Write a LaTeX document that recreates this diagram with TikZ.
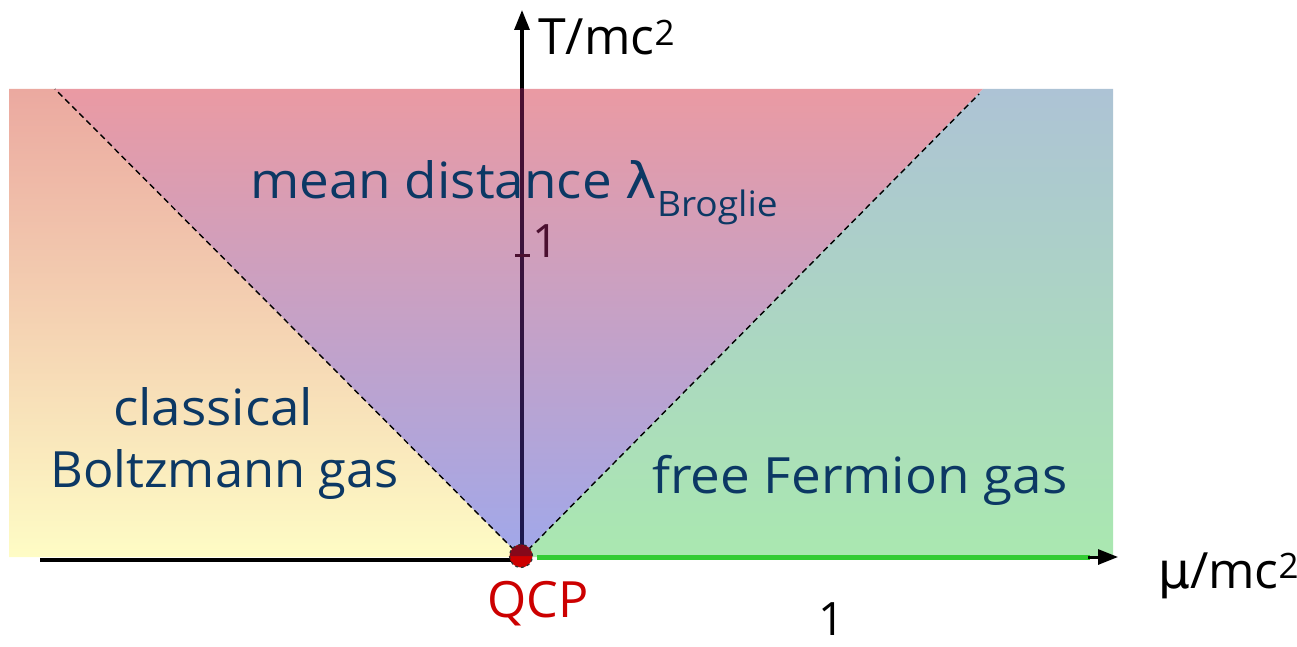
\documentclass[tikz,border=0pt]{standalone}
\usepackage{fontspec}
\setmainfont{Open Sans}
\newfontfamily\greek{DejaVu Sans}
\usetikzlibrary{arrows.meta}
\definecolor{txtblue}{RGB}{12,56,100}
\definecolor{qcpred}{RGB}{204,0,0}
\definecolor{lgreen}{RGB}{51,204,51}
\definecolor{Ltop}{RGB}{235,169,160}
\definecolor{Lbot}{RGB}{254,252,197}
\definecolor{Mtop}{RGB}{234,154,163}
\definecolor{Mbot}{RGB}{160,168,234}
\definecolor{Rtop}{RGB}{173,195,213}
\definecolor{Rbot}{RGB}{170,232,176}
\definecolor{axtop}{RGB}{75,16,48}
\definecolor{axbot}{RGB}{25,25,80}
\tikzset{
  lbl/.style={text=txtblue, inner sep=0pt, anchor=base west, xscale=1.06, font=\fontsize{50}{56}\selectfont},
  axlbl/.style={text=black, inner sep=0pt, anchor=base west, font=\fontsize{50}{56}\selectfont},
  border/.style={black, line width=1.4pt, dash pattern=on 6pt off 4pt},
  tip/.style={-{Triangle[length=20pt,width=15pt]}}
}
\begin{document}
\begin{tikzpicture}[x=1pt,y=-1pt]
\useasboundingbox (0,0) rectangle (1297,647);
% coordinates
\coordinate (O) at (521,557);
\coordinate (TL) at (55,89);
\coordinate (TR) at (983,89);
\coordinate (h0) at (40,559.5);
\coordinate (h1) at (521,559.5);
% regions
\shade[top color=Ltop, bottom color=Lbot] (9,89) -- (TL) -- (O) -- (9,557) -- cycle;
\shade[top color=Mtop, bottom color=Mbot] (TL) -- (TR) -- (O) -- cycle;
\shade[top color=Rtop, bottom color=Rbot] (TR) -- (1113,89) -- (1113,557) -- (O) -- cycle;
% horizontal axis (left part)
\draw[black, line width=4pt] (h0) -- (h1);
% dashed borders
\draw[border] (O) -- (TL);
\draw[border] (O) -- (979,94);
% vertical axis
\coordinate (vb) at (522,557);
\coordinate (vt) at (522,10);
\draw[black, line width=3.2pt, tip] (522,89) -- (vt);
\shade[top color=axtop, bottom color=axbot] (520.4,89) rectangle (523.6,557);
\draw[axtop, line width=3pt] (515,255) -- (530,255);
\node[font=\fontsize{46}{50}\selectfont, text=axtop, inner sep=0pt, anchor=base west] (one1) at (532,257) {1};
% green axis
\coordinate (g0) at (537,557);
\coordinate (g1) at (1090,557);
\coordinate (g2) at (1118,557);
\draw[lgreen, line width=5pt] (g0) -- (g1);
\draw[black, line width=3pt, tip] (1088,557) -- (g2);
% QCP dot
\node[circle, fill=qcpred, minimum size=23pt, inner sep=0pt, draw=black!80, dashed, line width=1.2pt] (qcp) at (521,556) {};
\fill[axtop, opacity=0.55] (510,556) arc[start angle=180, end angle=360, radius=11] -- cycle;
% labels
\node[lbl] (mean) at (250,198) {mean distance {\greek λ}\textsubscript{Broglie}};
\node[lbl] (cl) at (113,425) {classical};
\node[lbl, xscale=0.955] (bz) at (50,487) {Boltzmann gas};
\node[lbl] (ff) at (652,493) {free Fermion gas};
\node[lbl, text=qcpred, xscale=0.95] (qcptxt) at (487,617) {QCP};
\node[axlbl, font=\fontsize{46}{50}\selectfont] (one2) at (818,635) {1};
\node[axlbl] (T) at (538,55) {T/mc\textsuperscript{2}};
\node[axlbl] (mu) at (1158,588) {{\greek μ}/mc\textsuperscript{2}};
\end{tikzpicture}
\end{document}
